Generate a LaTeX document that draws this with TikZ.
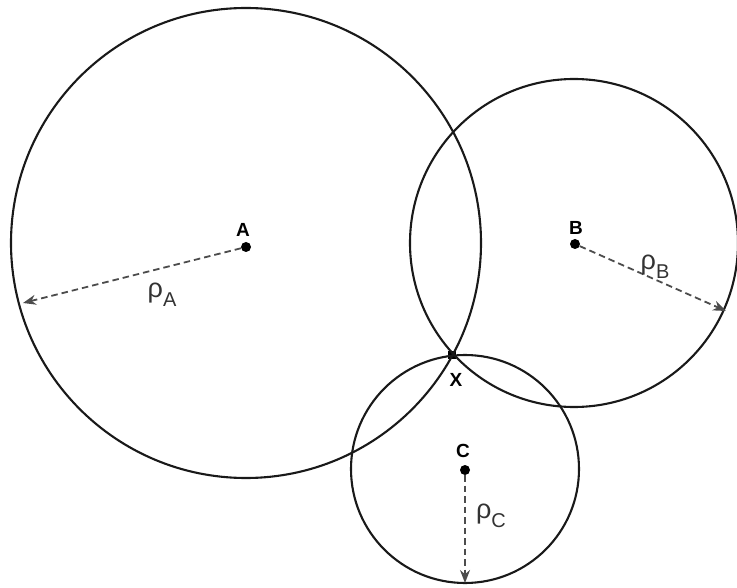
\documentclass[tikz,border=0pt]{standalone}
\usepackage{fontspec}
\setmainfont{Liberation Sans}
\usetikzlibrary{arrows.meta}

\tikzset{
    ring/.style={line width=2.1pt, black!90},
    radiusarrow/.style={line width=1.8pt, black!70, dash pattern=on 6.5pt off 4pt,
        -{Stealth[length=13pt, width=10pt]}},
    dot/.style={circle, fill, inner sep=0pt, minimum size=10pt},
    ptlabel/.style={font=\fontsize{19}{19}\selectfont\bfseries},
    rholabel/.style={font=\fontsize{27}{27}\selectfont, black!80}
}
\newcommand{\rhosub}[1]{ρ\raisebox{-0.32em}{\fontsize{20}{20}\selectfont #1}}

\begin{document}
\begin{tikzpicture}[x=1pt, y=-1pt]
    \useasboundingbox (0,0) rectangle (737,588);

    % Centres and the common point
    \node[dot] (A) at (246,247) {};
    \node[dot] (B) at (575,244) {};
    \node[dot] (C) at (465,470) {};
    \node[rectangle, fill, inner sep=0pt, minimum size=8pt] (X) at (452,355) {};

    % Circles
    \draw[ring] (246,243) circle[radius=235pt];
    \draw[ring] (574,243) circle[radius=164pt];
    \draw[ring] (465,469) circle[radius=114pt];

    % Radii
    \coordinate (endA) at (23,303);
    \coordinate (endB) at (726,311);
    \coordinate (endC) at (465,583);
    \draw[radiusarrow] (A) -- (endA);
    \draw[radiusarrow] (B) -- (endB);
    \draw[radiusarrow] (C) -- (endC);

    % Labels
    \node[ptlabel] (labA) at (243,230) {A};
    \node[ptlabel] (labB) at (576,228) {B};
    \node[ptlabel] (labC) at (463,451) {C};
    \node[ptlabel] (labX) at (456,380) {X};
    \node[rholabel] (rhoA) at (162,295) {\rhosub{A}};
    \node[rholabel] (rhoB) at (655,267) {\rhosub{B}};
    \node[rholabel] (rhoC) at (491,516) {\rhosub{C}};
\end{tikzpicture}
\end{document}
